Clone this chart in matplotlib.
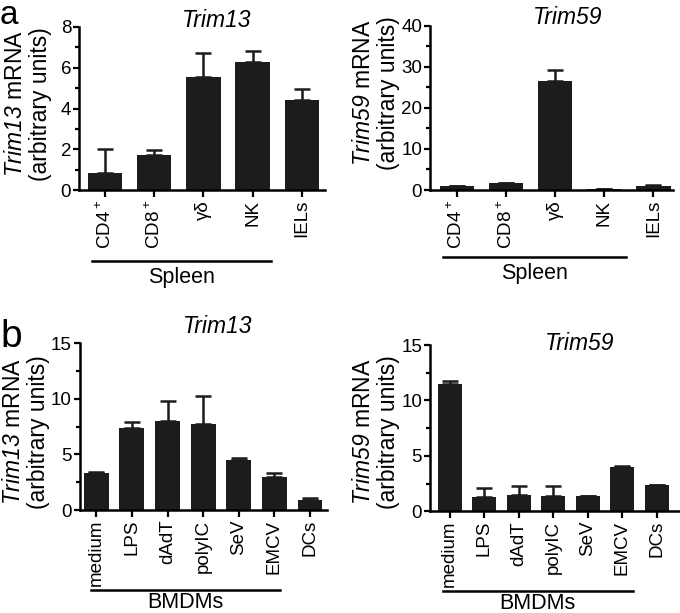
import matplotlib
matplotlib.use("Agg")
import matplotlib.pyplot as plt
import numpy as np

plt.rcParams['font.family'] = ['Liberation Sans', 'DejaVu Sans']
plt.rcParams['mathtext.fontset'] = 'custom'
plt.rcParams['mathtext.rm'] = 'Liberation Sans'
# bf slot mapped to italic so digits in gene names are italic too
plt.rcParams['mathtext.bf'] = 'Liberation Sans:italic'

# data
cells = ['CD4$^+$', 'CD8$^+$', 'γδ', 'NK', 'IELs']
trim13_cells = [0.85, 1.7, 5.55, 6.3, 4.4]
trim13_cells_err = [1.15, 0.25, 1.15, 0.5, 0.55]
trim59_cells = [0.9, 1.6, 26.5, 0.3, 1.1]
trim59_cells_err = [0.1, 0.2, 2.7, 0.05, 0.2]

stims = ['medium', 'LPS', 'dAdT', 'polyIC', 'SeV', 'EMCV', 'DCs']
trim13_bm = [3.35, 7.4, 8.0, 7.7, 4.5, 3.0, 0.9]
trim13_bm_err = [0.05, 0.5, 1.8, 2.6, 0.15, 0.3, 0.2]
trim59_bm = [11.5, 1.3, 1.5, 1.4, 1.35, 3.95, 2.35]
trim59_bm_err = [0.3, 0.8, 0.8, 0.9, 0.02, 0.1, 0.05]

W, H = 680, 613
fig = plt.figure(figsize=(6.8, 6.13), dpi=100)


def panel(rect, labels, vals, errs, gene, ylim, major, minor, xlim,
          group, gspan, gy, ty, title_xy, ylab_px):
    ax = fig.add_axes(rect)
    x = np.arange(len(vals))
    ax.bar(x, vals, width=0.7, color='#1c1c1c', zorder=2)
    ax.errorbar(x, vals, yerr=[np.zeros(len(errs)), errs], fmt='none',
                ecolor='#1c1c1c', elinewidth=1.8, capsize=6, capthick=1.8, zorder=1)
    ax.set_xlim(*xlim)
    ax.set_ylim(*ylim)
    ax.set_yticks(major)
    ax.set_yticks(minor, minor=True)
    ax.set_xticks(x)
    ax.set_xticklabels(labels, rotation=90, fontsize=13.5)
    ax.tick_params(axis='y', labelsize=13.5, width=1.6, length=4.5, pad=1)
    ax.tick_params(axis='y', which='minor', width=1.6, length=3)
    ax.tick_params(axis='x', width=1.6, length=5, pad=2)
    for s in ['top', 'right']:
        ax.spines[s].set_visible(False)
    for s in ['left', 'bottom']:
        ax.spines[s].set_linewidth(1.8)
    ax.text(title_xy[0], title_xy[1], gene, style='italic', fontsize=16.5,
            ha='center', va='center', transform=ax.transAxes)
    # two-line y label
    x1, x2, yc = ylab_px
    fig.text(x1 / W, 1 - yc / H, r'$\mathbf{' + gene + '}$ mRNA', rotation=90,
             fontsize=16.5, ha='center', va='center')
    fig.text(x2 / W, 1 - yc / H, '(arbitrary units)', rotation=90,
             fontsize=16.5, ha='center', va='center')
    tr = ax.get_xaxis_transform()
    ax.plot(gspan, [gy, gy], color='black', lw=1.8, transform=tr, clip_on=False)
    ax.text(np.mean(gspan), ty, group, ha='center', va='center', fontsize=15.5,
            transform=tr)
    return ax


panel([0.116, 0.690, 0.362, 0.266], cells, trim13_cells, trim13_cells_err,
      'Trim13', (0, 8), [0, 2, 4, 6, 8], [1, 3, 5, 7], (-0.53, 4.47),
      'Spleen', [-0.26, 3.37], -0.435, -0.535, (0.56, 1.04), (16, 41, 104))
panel([0.632, 0.690, 0.357, 0.268], cells, trim59_cells, trim59_cells_err,
      'Trim59', (0, 40), [0, 10, 20, 30, 40], [5, 15, 25, 35], (-0.55, 4.39),
      'Spleen', [-0.28, 3.45], -0.41, -0.51, (0.57, 1.05), (364, 389, 93))
panel([0.117, 0.168, 0.364, 0.272], stims, trim13_bm, trim13_bm_err,
      'Trim13', (0, 15), [0, 5, 10, 15], [2.5, 7.5, 12.5], (-0.47, 6.48),
      'BMDMs', [-0.14, 5.17], -0.48, -0.555, (0.56, 1.10), (14, 39, 432))
panel([0.632, 0.166, 0.368, 0.271], stims, trim59_bm, trim59_bm_err,
      'Trim59', (0, 15), [0, 5, 10, 15], [2.5, 7.5, 12.5], (-0.58, 6.67),
      'BMDMs', [-0.2, 5.3], -0.48, -0.555, (0.60, 1.01), (364, 389, 432))

fig.text(0.0, 1.0, 'a', fontsize=24, va='top', ha='left')
fig.text(0.0, 1 - 347 / H, 'b', fontsize=28, va='baseline', ha='left')

fig.savefig('out.png', dpi=100)
